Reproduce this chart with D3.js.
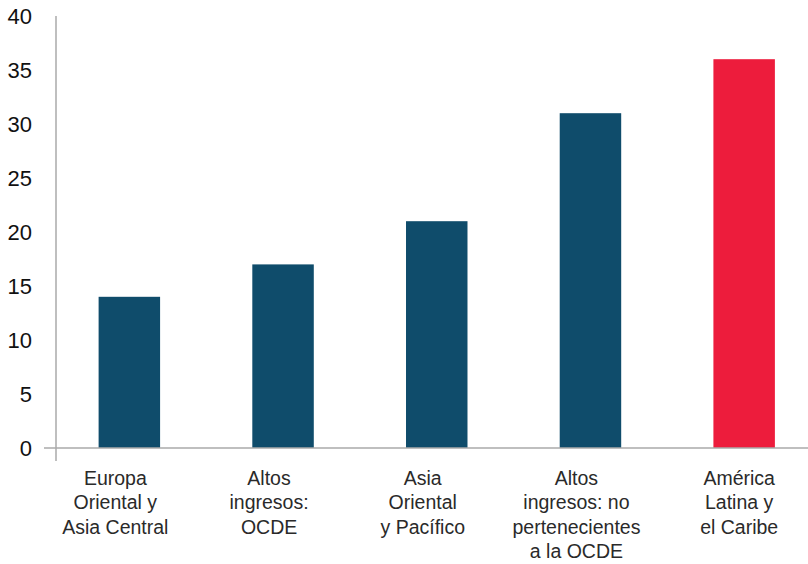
<!DOCTYPE html>
<html>
<head>
<meta charset="utf-8">
<script src="https://cdn.jsdelivr.net/npm/d3@7"></script>
<style>
  body { margin: 0; background: #fff; }
  svg { display: block; font-family: "Liberation Sans", Arial, sans-serif; }
</style>
</head>
<body>
<div id="chart"></div>
<script>
// data
const regions = [
  ["Europa", "Oriental y", "Asia Central"],
  ["Altos", "ingresos:", "OCDE"],
  ["Asia", "Oriental", "y Pacífico"],
  ["Altos", "ingresos: no", "pertenecientes", "a la OCDE"],
  ["América", "Latina y", "el Caribe"]
];
const values = [14, 17, 21, 31, 36];
const highlight = [false, false, false, false, true];
const yTicks = [0, 5, 10, 15, 20, 25, 30, 35, 40];

const width = 808;
const height = 564;
const margin = { top: 16, left: 56, bottom: 116 };
const baseY = height - margin.bottom;
// labels sit a little left of the bars in the original (trailing spaces)
const labelShift = [-14, -14, -14, -14, -5];

const svg = d3
  .select("#chart")
  .append("svg")
  .attr("width", width)
  .attr("height", height);

const x = d3
  .scaleBand()
  .domain(d3.range(values.length))
  .range([52.5, 821])
  .paddingInner(0.6)
  .paddingOuter(0.3);

const y = d3.scaleLinear().domain([0, 40]).range([baseY, margin.top]);

// y tick labels
svg
  .append("g")
  .selectAll("text")
  .data(yTicks)
  .join("text")
  .attr("x", 32)
  .attr("y", (d) => y(d))
  .attr("dy", "0.36em")
  .attr("text-anchor", "end")
  .attr("font-size", 22)
  .attr("fill", "#111")
  .text((d) => d);

// bars
svg
  .append("g")
  .selectAll("rect")
  .data(values)
  .join("rect")
  .attr("x", (d, i) => x(i))
  .attr("width", x.bandwidth())
  .attr("y", (d) => y(d))
  .attr("height", (d) => y(0) - y(d))
  .attr("fill", (d, i) => (highlight[i] ? "#ed1c3c" : "#0f4c6b"));

// axes lines
svg
  .append("line")
  .attr("x1", margin.left)
  .attr("x2", margin.left)
  .attr("y1", margin.top)
  .attr("y2", baseY + 13)
  .attr("stroke", "#aaa")
  .attr("stroke-width", 1.5);

svg
  .append("line")
  .attr("x1", 44)
  .attr("x2", width)
  .attr("y1", baseY)
  .attr("y2", baseY)
  .attr("stroke", "#aaa")
  .attr("stroke-width", 1.5);

// category labels
const labels = svg
  .append("g")
  .selectAll("text")
  .data(regions)
  .join("text")
  .attr("x", (d, i) => x(i) + x.bandwidth() / 2 + labelShift[i])
  .attr("y", baseY + 36.5)
  .attr("text-anchor", "middle")
  .attr("font-size", 19.5)
  .attr("fill", "#2a2a2a");

labels
  .selectAll("tspan")
  .data((d) => d)
  .join("tspan")
  .attr("x", function () {
    return d3.select(this.parentNode).attr("x");
  })
  .attr("dy", (d, i) => (i === 0 ? 0 : 24.5))
  .text((d) => d);
</script>
</body>
</html>
